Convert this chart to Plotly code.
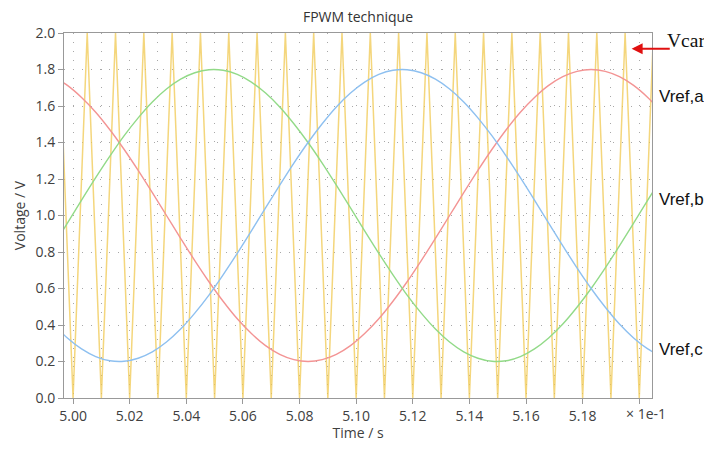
import plotly.graph_objects as go

# ---- data (time in seconds, voltage in V) ----
ref_time_s = [0.4993, 0.4998, 0.5003, 0.5008, 0.5013, 0.5018, 0.5023, 0.5028, 0.5033, 0.5038,
              0.5043, 0.5048, 0.5053, 0.5058, 0.5063, 0.5068, 0.5073, 0.5078, 0.5083, 0.5088,
              0.5093, 0.5098, 0.5103, 0.5108, 0.5113, 0.5118, 0.5123, 0.5128, 0.5133, 0.5138,
              0.5143, 0.5148, 0.5153, 0.5158, 0.5163, 0.5168, 0.5173, 0.5178, 0.5183, 0.5188,
              0.5193, 0.5198, 0.5203, 0.5208]

vref_a = [1.761, 1.713, 1.647, 1.566, 1.470, 1.363, 1.247, 1.125, 1.000, 0.875,
          0.753, 0.637, 0.530, 0.434, 0.353, 0.287, 0.239, 0.210, 0.200, 0.210,
          0.239, 0.287, 0.353, 0.434, 0.530, 0.637, 0.753, 0.875, 1.000, 1.125,
          1.247, 1.363, 1.470, 1.566, 1.647, 1.713, 1.761, 1.790, 1.800, 1.790,
          1.761, 1.713, 1.647, 1.566]

vref_b = [0.834, 0.958, 1.084, 1.207, 1.325, 1.436, 1.535, 1.622, 1.693, 1.747,
          1.782, 1.799, 1.796, 1.773, 1.731, 1.671, 1.595, 1.503, 1.400, 1.287,
          1.166, 1.042, 0.916, 0.793, 0.675, 0.564, 0.465, 0.378, 0.307, 0.253,
          0.218, 0.201, 0.204, 0.227, 0.269, 0.329, 0.405, 0.497, 0.600, 0.713,
          0.834, 0.958, 1.084, 1.207]

vref_c = [0.405, 0.329, 0.269, 0.227, 0.204, 0.201, 0.218, 0.253, 0.307, 0.378,
          0.465, 0.564, 0.675, 0.793, 0.916, 1.042, 1.166, 1.287, 1.400, 1.503,
          1.595, 1.671, 1.731, 1.773, 1.796, 1.799, 1.782, 1.747, 1.693, 1.622,
          1.535, 1.436, 1.325, 1.207, 1.084, 0.958, 0.834, 0.713, 0.600, 0.497,
          0.405, 0.329, 0.269, 0.227]

car_time_s = [0.4995, 0.5000, 0.5005, 0.5010, 0.5015, 0.5020, 0.5025, 0.5030, 0.5035, 0.5040,
              0.5045, 0.5050, 0.5055, 0.5060, 0.5065, 0.5070, 0.5075, 0.5080, 0.5085, 0.5090,
              0.5095, 0.5100, 0.5105, 0.5110, 0.5115, 0.5120, 0.5125, 0.5130, 0.5135, 0.5140,
              0.5145, 0.5150, 0.5155, 0.5160, 0.5165, 0.5170, 0.5175, 0.5180, 0.5185, 0.5190,
              0.5195, 0.5200, 0.5205]
vcar = [2, 0, 2, 0, 2, 0, 2, 0, 2, 0,
        2, 0, 2, 0, 2, 0, 2, 0, 2, 0,
        2, 0, 2, 0, 2, 0, 2, 0, 2, 0,
        2, 0, 2, 0, 2, 0, 2, 0, 2, 0,
        2, 0, 2]

x_scale = 10  # axis shown in units of 1e-1 s

def scaled(ts):
    return [t * x_scale for t in ts]

fig = go.Figure()
fig.add_trace(go.Scatter(x=scaled(car_time_s), y=vcar, mode="lines",
                         line=dict(color="rgba(240,200,80,0.75)", width=1.5),
                         showlegend=False, hoverinfo="skip"))
fig.add_trace(go.Scatter(x=scaled(ref_time_s), y=vref_a, mode="lines",
                         line=dict(color="#F39494", width=1.4, shape="spline"),
                         showlegend=False))
fig.add_trace(go.Scatter(x=scaled(ref_time_s), y=vref_b, mode="lines",
                         line=dict(color="#92DA88", width=1.4, shape="spline"),
                         showlegend=False))
fig.add_trace(go.Scatter(x=scaled(ref_time_s), y=vref_c, mode="lines",
                         line=dict(color="#8EC0F0", width=1.4, shape="spline"),
                         showlegend=False))

txt_color = "#404040"
tick_font = dict(family="Open Sans", size=14, color=txt_color)
grid_style = dict(showgrid=True, gridcolor="#a8a8a8", gridwidth=1, griddash="1px,8px")

fig.update_xaxes(range=[4.9968, 5.2045], dtick=0.02, tick0=5.0, tickformat=".2f",
                 labelalias={"5.20": " "}, automargin=False,
                 ticks="outside", ticklen=5, tickcolor="#999", tickfont=tick_font,
                 showline=True, linecolor="#999", linewidth=1, mirror=True,
                 zeroline=False, **grid_style,
                 minor=dict(dtick=0.01, tick0=5.0, showgrid=True, gridcolor="#a8a8a8",
                            gridwidth=1, griddash="1px,8px"),
                 title=dict(text="Time / s", font=dict(family="Open Sans", size=14, color=txt_color),
                            standoff=6))
fig.update_yaxes(range=[0, 2], dtick=0.2, tickformat=".1f", automargin=False,
                 ticks="outside", ticklen=5, tickcolor="#999", tickfont=tick_font,
                 showline=True, linecolor="#999", linewidth=1, mirror=True,
                 zeroline=False, **grid_style,
                 title=dict(text="Voltage / V", font=dict(family="Open Sans", size=14, color=txt_color),
                            standoff=6))

# page body has an 8px margin, so the figure is sized/offset to land on the reference layout
fig.update_layout(
    width=696, height=434,
    margin=dict(l=56, r=52, t=25, b=44, autoexpand=False),
    paper_bgcolor="white", plot_bgcolor="white",
    title=dict(text="FPWM technique", x=0.5, xref="paper", y=0.979, yref="container",
               yanchor="middle",
               font=dict(family="Open Sans", size=14, color="#333")),
    showlegend=False,
)

fig.add_annotation(text="× 1e-1", xref="paper", yref="paper", x=1.027, y=-0.012,
                   xanchor="right", yanchor="top", showarrow=False,
                   font=dict(family="Open Sans", size=14, color=txt_color))

label_font = dict(family="Liberation Sans", size=17, color="#111")
fig.add_annotation(text="Vcar", xref="paper", yref="y", x=1.0225, y=1.958, xanchor="left",
                   yanchor="middle", showarrow=False,
                   font=dict(family="Liberation Serif", size=19.5, color="#111"))
fig.add_annotation(x=5.1973, y=1.914, ax=5.2113, ay=1.914, xref="x", yref="y",
                   axref="x", ayref="y", text="", showarrow=True,
                   arrowhead=2, arrowsize=1.1, arrowwidth=2, arrowcolor="#E01010")
fig.add_annotation(text="Vref,a", xref="paper", yref="y", x=1.0085, y=1.652, xanchor="left",
                   yanchor="middle", showarrow=False, font=label_font)
fig.add_annotation(text="Vref,b", xref="paper", yref="y", x=1.0085, y=1.085, xanchor="left",
                   yanchor="middle", showarrow=False, font=label_font)
fig.add_annotation(text="Vref,c", xref="paper", yref="y", x=1.0085, y=0.267, xanchor="left",
                   yanchor="middle", showarrow=False, font=label_font)

fig.write_html("out.html")
